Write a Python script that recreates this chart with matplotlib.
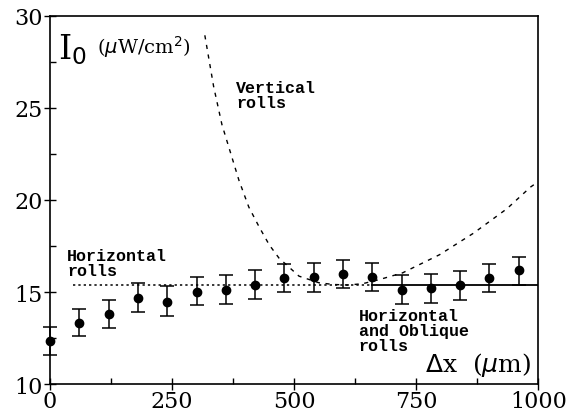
import numpy as np
import matplotlib.pyplot as plt

# measured intensity threshold vs. displacement
dx = [0, 60, 120, 180, 240, 300, 360, 420, 480, 540, 600, 660, 720, 780, 840, 900, 960]
i0 = [12.33, 13.32, 13.8, 14.69, 14.46, 15.02, 15.12, 15.38, 15.77, 15.82, 15.98,
      15.82, 15.1, 15.23, 15.36, 15.77, 16.18]
err_hi = [13.08, 14.1, 14.59, 15.48, 15.32, 15.82, 15.91, 16.18, 16.54, 16.58, 16.72,
          16.58, 15.91, 15.98, 16.14, 16.52, 16.9]
err_lo = [11.56, 12.6, 13.05, 13.92, 13.71, 14.3, 14.37, 14.64, 15.0, 15.02, 15.2,
          15.05, 14.37, 14.42, 14.59, 14.98, 15.39]

# theory curves
vert_x = [317, 335, 352, 387, 407, 428, 449, 469, 510, 551, 580, 610, 640, 675, 722,
          798, 867, 936, 984, 1000]
vert_y = [28.95, 26.17, 24.1, 21.06, 19.62, 18.55, 17.56, 16.84, 15.86, 15.5, 15.41,
          15.38, 15.45, 15.68, 16.04, 17.03, 18.19, 19.53, 20.7, 21.0]
horiz_level = 15.38
horiz_dotted_x = [47, 660]
horiz_solid_x = [660, 1000]

plt.rcParams['font.family'] = ['DejaVu Serif']
fig = plt.figure(figsize=(5.69, 4.14), dpi=100)
ax = fig.add_axes([0.088, 0.07, 0.858, 0.889])

yerr = [np.array(i0) - np.array(err_lo), np.array(err_hi) - np.array(i0)]
ax.errorbar(dx, i0, yerr=yerr, fmt='o', color='black', markersize=6,
            capsize=5, elinewidth=1.1, capthick=1.1, clip_on=False, zorder=3)

ax.plot(vert_x, vert_y, color='black', linestyle=(0, (3, 4)), linewidth=1.0)
ax.plot(horiz_dotted_x, [horiz_level] * 2, color='black', linestyle=(0, (1.5, 2)), linewidth=1.1)
ax.plot(horiz_solid_x, [horiz_level] * 2, color='black', linewidth=1.3)

ax.set_xlim(0, 1000)
ax.set_ylim(10, 30)
ax.set_xticks([0, 250, 500, 750, 1000])
ax.set_xticks([125, 375, 625, 875], minor=True)
ax.set_yticks([10, 15, 20, 25, 30])
ax.set_yticks([12.5, 17.5, 22.5, 27.5], minor=True)
ax.tick_params(axis='both', which='major', direction='inout', length=9, width=1,
               labelsize=16, pad=0)
ax.tick_params(axis='y', which='major', pad=1)
ax.tick_params(axis='both', which='minor', direction='in', length=4, width=1)
for s in ax.spines.values():
    s.set_linewidth(1.2)

lab = dict(family='Liberation Mono', fontweight='bold', fontsize=12, linespacing=1.0)
ax.text(16, 27.7, r'I$_0$', fontsize=24, va='baseline')
ax.text(97, 28.0, r'($\mu$W/cm$^2$)', fontsize=14, va='baseline')
ax.text(381, 26.5, 'Vertical\nrolls', va='top', **lab)
ax.text(35, 17.4, 'Horizontal\nrolls', va='top', **lab)
ax.text(632, 14.15, 'Horizontal\nand Oblique\nrolls', va='top', **lab)
ax.text(985, 10.7, r'$\Delta$x  ($\mu$m)', fontsize=18, ha='right', va='baseline')

fig.savefig('out.png', dpi=100)
